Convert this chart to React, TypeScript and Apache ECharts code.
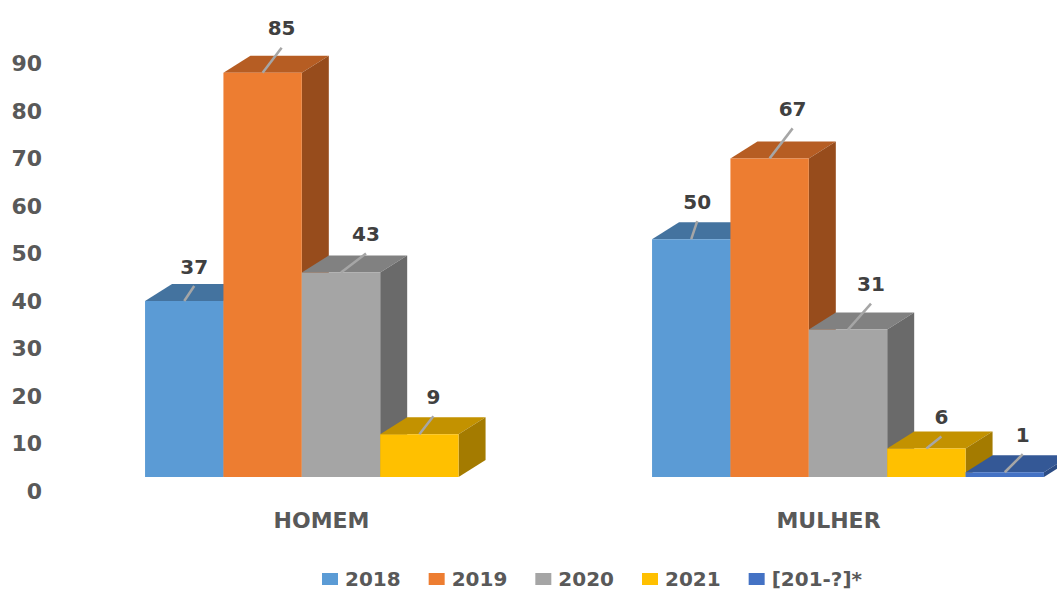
import React, { useEffect, useRef } from 'react';
import * as echarts from 'echarts';

// ---- data ----
const categories = ['HOMEM', 'MULHER'];
const seriesNames = ['2018', '2019', '2020', '2021', '[201-?]*'];
const values2018 = [37, 50];
const values2019 = [85, 67];
const values2020 = [43, 31];
const values2021 = [9, 6];
const values201x: (number | null)[] = [null, 1];
const yMin = 0;
const yMax = 90;
const yStep = 10;

// ---- label leader-line nudges (pixels, relative to the top-front centre of each bar) ----
const leaders2018 = [[10, -15], [6, -18]];
const leaders2019 = [[19, -25], [23, -30]];
const leaders2020 = [[25, -19], [23, -26]];
const leaders2021 = [[14, -18], [15, -12]];
const leaders201x = [[0, 0], [18, -18]];

// ---- styles ----
const FONT = 'DejaVu Sans';
const faceColors = [
  { front: '#5B9BD5', top: '#44739F', side: '#3E6A94' },
  { front: '#ED7D31', top: '#B65D23', side: '#974C1C' },
  { front: '#A5A5A5', top: '#818181', side: '#6A6A6A' },
  { front: '#FFC000', top: '#C39200', side: '#A47B00' },
  { front: '#4472C4', top: '#345896', side: '#2C4C85' },
];
const DEPTH_X = 27;
const DEPTH_Y = 17;
const GROUP_RATIO = 0.773;
const GROUP_SHIFT = 19.5;

const seriesValues = [values2018, values2019, values2020, values2021, values201x];
const seriesLeaders = [leaders2018, leaders2019, leaders2020, leaders2021, leaders201x];

function makeRenderItem(sIdx: number) {
  const nSeries = seriesNames.length;
  return (params: any, api: any) => {
    const cat = api.value(0);
    const val = api.value(1);
    if (val == null || isNaN(val) || val <= 0) return { type: 'group', children: [] };
    const base = api.coord([cat, 0]);
    const topPt = api.coord([cat, val]);
    const band = api.size([1, 0])[0];
    const bw = (band * GROUP_RATIO) / nSeries;
    const cx = base[0] + GROUP_SHIFT + (sIdx - (nSeries - 1) / 2) * bw;
    const x0 = cx - bw / 2;
    const x1 = cx + bw / 2;
    const yb = base[1];
    const yt = topPt[1];
    const c = faceColors[sIdx];
    const lead = seriesLeaders[sIdx][params.dataIndex];
    const lx = cx + lead[0];
    const ly = yt + lead[1];
    return {
      type: 'group',
      children: [
        {
          type: 'polygon',
          shape: { points: [[x0, yt], [x1, yt], [x1 + DEPTH_X, yt - DEPTH_Y], [x0 + DEPTH_X, yt - DEPTH_Y]] },
          style: { fill: c.top },
        },
        {
          type: 'polygon',
          shape: { points: [[x1, yt], [x1 + DEPTH_X, yt - DEPTH_Y], [x1 + DEPTH_X, yb - DEPTH_Y], [x1, yb]] },
          style: { fill: c.side },
        },
        {
          type: 'rect',
          shape: { x: x0, y: yt, width: bw, height: yb - yt },
          style: { fill: c.front },
        },
        {
          type: 'line',
          shape: { x1: cx, y1: yt, x2: lx, y2: ly },
          style: { stroke: '#A6A6A6', lineWidth: 2.5 },
          z2: 10,
        },
        {
          type: 'text',
          x: lx,
          y: ly - 19.5,
          style: {
            text: String(val),
            fill: '#404040',
            fontSize: 20,
            fontWeight: 'bold',
            fontFamily: FONT,
            align: 'center',
            verticalAlign: 'middle',
          },
          z2: 11,
        },
      ],
    };
  };
}

const option: any = {
  animation: false,
  backgroundColor: '#ffffff',
  grid: {
    left: 68,
    width: 1014,
    top: 49,
    bottom: 113,
    containLabel: false,
    outerBoundsMode: 'none',
  },
  legend: {
    data: seriesNames,
    left: 322,
    top: 569,
    padding: 0,
    icon: 'rect',
    itemWidth: 16,
    itemHeight: 12,
    itemGap: 28,
    selectedMode: false,
    textStyle: {
      fontFamily: FONT,
      fontWeight: 'bold',
      fontSize: 20,
      color: '#595959',
      lineHeight: 18,
      padding: [0, 0, 0, 2],
    },
  },
  xAxis: {
    type: 'category',
    data: categories,
    axisLine: { show: false },
    axisTick: { show: false },
    axisLabel: {
      margin: 32,
      fontFamily: FONT,
      fontWeight: 'bold',
      fontSize: 22,
      lineHeight: 22,
      color: '#595959',
    },
    splitLine: { show: false },
  },
  yAxis: {
    type: 'value',
    min: yMin,
    max: yMax,
    interval: yStep,
    axisLine: { show: false },
    axisTick: { show: false },
    splitLine: { show: false },
    axisLabel: {
      margin: 26,
      fontFamily: FONT,
      fontWeight: 'bold',
      fontSize: 22,
      color: '#595959',
      verticalAlign: 'top',
      lineHeight: 29,
    },
  },
  series: seriesNames.map((name, sIdx) => ({
    type: 'custom',
    name,
    renderItem: makeRenderItem(sIdx),
    itemStyle: { color: faceColors[sIdx].front },
    encode: { x: 0, y: 1 },
    clip: false,
    data: categories.map((_, i) => [i, seriesValues[sIdx][i] == null ? '-' : seriesValues[sIdx][i]]),
  })),
};

export default function App() {
  const ref = useRef<HTMLDivElement>(null);
  useEffect(() => {
    const chart = echarts.init(ref.current as HTMLDivElement, null, { renderer: 'svg' });
    chart.setOption(option);
    return () => chart.dispose();
  }, []);
  return (
    <div
      ref={ref}
      style={{ position: 'fixed', left: 0, top: 0, width: 1057, height: 590, background: '#ffffff' }}
    />
  );
}
